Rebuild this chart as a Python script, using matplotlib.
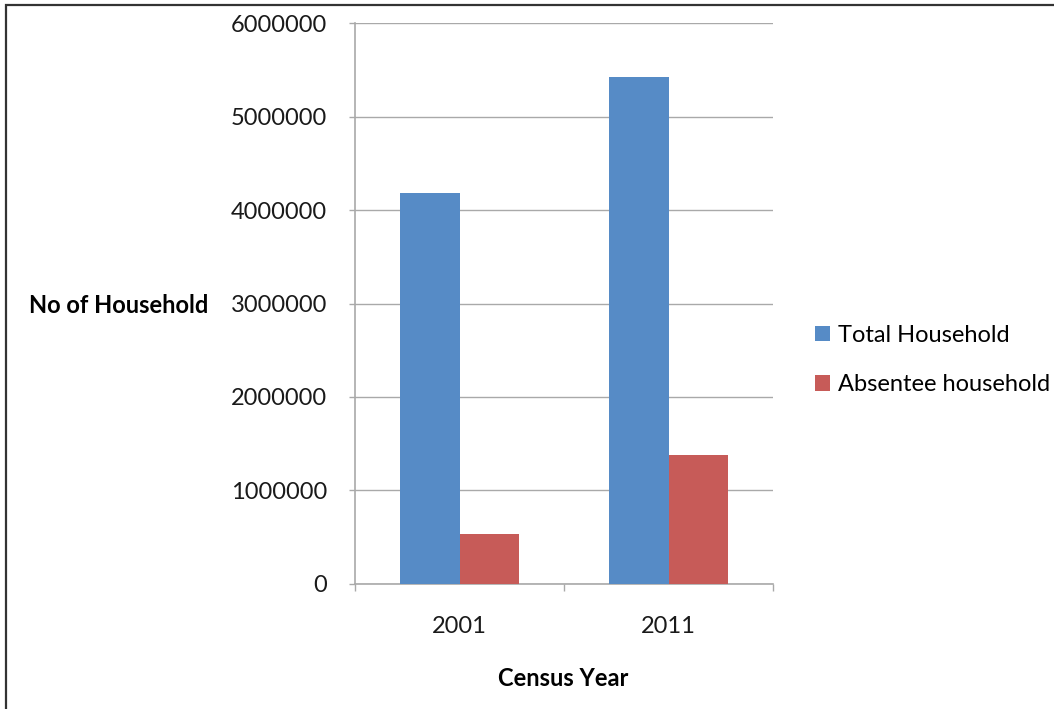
import matplotlib
matplotlib.use("Agg")
import matplotlib.pyplot as plt
from matplotlib.patches import Rectangle
import numpy as np

# Census households
years = ["2001", "2011"]
total_household = [4180000, 5430000]
absentee_household = [530000, 1380000]
series_labels = ["Total Household", "Absentee household"]
y_ticks = [0, 1000000, 2000000, 3000000, 4000000, 5000000, 6000000]

plt.rcParams["font.family"] = ["Lato", "DejaVu Sans"]

W, H = 1054, 709
fig = plt.figure(figsize=(W / 100, H / 100), dpi=100)
fig.patch.set_facecolor("white")

left, right, top, bottom = 355, 773, 23.3, 583.7
ax = fig.add_axes([left / W, 1 - bottom / H, (right - left) / W, (bottom - top) / H])

grey = "#a9a9a9"
blue = "#568bc6"
red = "#c75b58"
bar_w = 0.287
fs = 17

x = np.arange(len(years))
ax.bar(x - bar_w / 2, total_household, width=bar_w, color=blue, zorder=3,
       label=series_labels[0])
ax.bar(x + bar_w / 2, absentee_household, width=bar_w, color=red, zorder=3,
       label=series_labels[1])

ax.set_xlim(-0.5, len(years) - 0.5)
ax.set_ylim(0, 6000000)
ax.set_yticks(y_ticks)
ax.set_yticklabels([str(v) for v in y_ticks])
ax.yaxis.grid(True, color=grey, linewidth=1.0, zorder=0)
ax.set_axisbelow(True)

# category boundaries carry the tick marks, centers carry the labels
ax.set_xticks(np.arange(len(years) + 1) - 0.5)
ax.set_xticklabels([])
ax.set_xticks(x, minor=True)
ax.set_xticklabels(years, minor=True)
ax.tick_params(axis="x", which="major", length=5, width=1.0, color=grey, direction="out")
ax.tick_params(axis="x", which="minor", length=0, pad=23, labelsize=fs, labelcolor="#1a1a1a")
ax.tick_params(axis="y", length=4, width=1.0, color=grey, direction="out", pad=16,
               labelsize=fs, labelcolor="#1a1a1a")

for s in ("top", "right"):
    ax.spines[s].set_visible(False)
for s in ("left", "bottom"):
    ax.spines[s].set_color(grey)
    ax.spines[s].set_linewidth(1.2)

ax.set_ylabel("No of Household", rotation=0, fontsize=fs, fontweight="bold",
              ha="center", va="center")
ax.yaxis.set_label_coords(-0.5646, 0.496)
ax.set_xlabel("Census Year", fontsize=fs, fontweight="bold", ha="center", va="center")
ax.xaxis.set_label_coords(0.4976, -0.170)

fig.legend(loc="center left", bbox_to_anchor=(815 / W, 1 - 360 / H), frameon=False,
           fontsize=fs, handlelength=0.62, handleheight=0.62, handletextpad=0.35,
           labelspacing=1.2, borderpad=0, borderaxespad=0)

# outer frame (left and top edges visible)
fig.add_artist(Rectangle((5.5 / W, -0.1), 1.2, 1.1 - 4.5 / H, transform=fig.transFigure,
                         fill=False, edgecolor="#333333", linewidth=1.6))

fig.savefig("out.png", dpi=100, facecolor="white")
